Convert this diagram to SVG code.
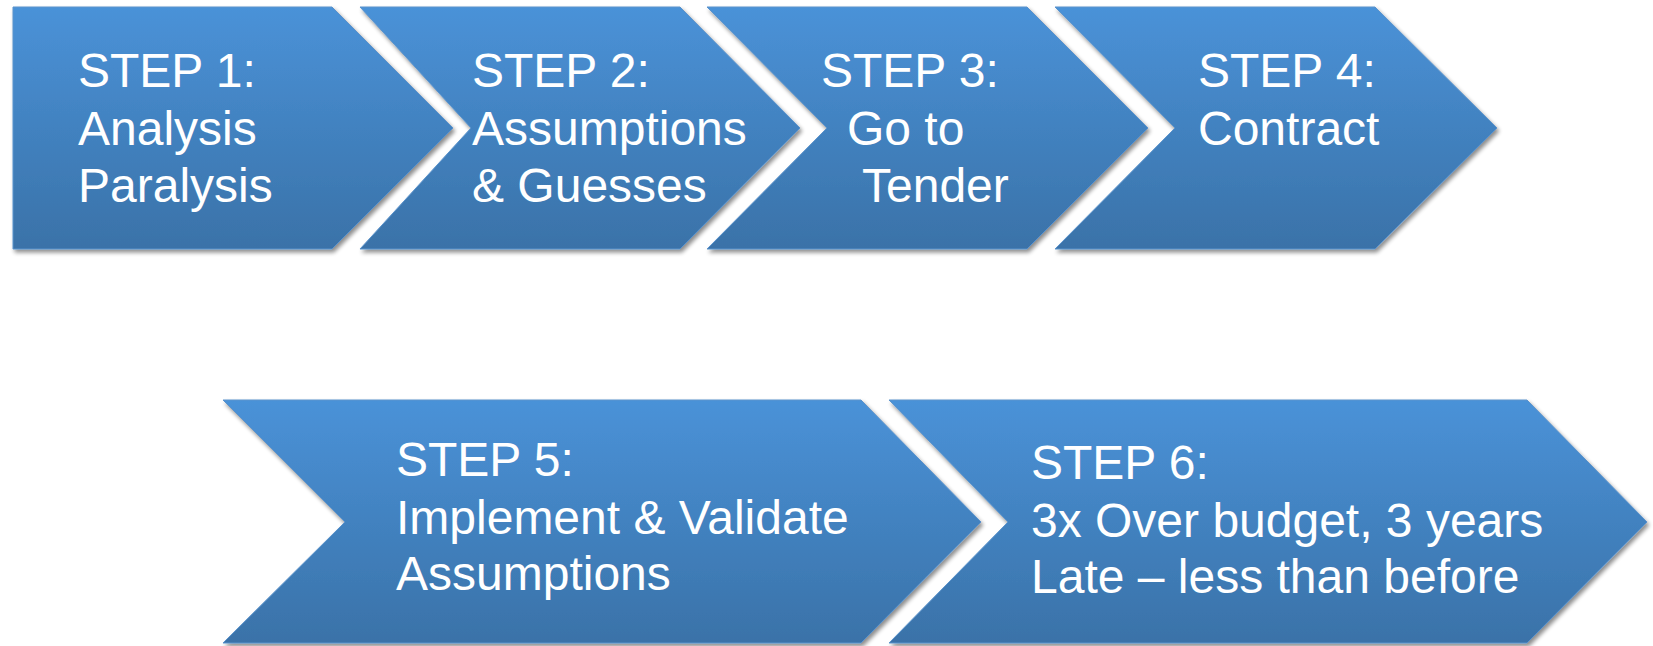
<svg xmlns="http://www.w3.org/2000/svg" width="1653" height="646" viewBox="0 0 1653 646">
  <defs>
    <linearGradient id="chevFill" x1="0" y1="0" x2="0" y2="1">
      <stop offset="0" stop-color="#4a92d8"/>
      <stop offset="1" stop-color="#3a72a8"/>
    </linearGradient>
    <filter id="softShadow" x="-5%" y="-5%" width="112%" height="115%">
      <feGaussianBlur in="SourceAlpha" stdDeviation="2.2"/>
      <feOffset dx="2" dy="3" result="blur"/>
      <feComponentTransfer><feFuncA type="linear" slope="0.45"/></feComponentTransfer>
      <feMerge><feMergeNode/><feMergeNode in="SourceGraphic"/></feMerge>
    </filter>
  </defs>
  <style>
    .chev { fill: url(#chevFill); stroke: #5b93cc; stroke-width: 1; filter: url(#softShadow); }
    .lbl { font-family: "Liberation Sans", Arial, sans-serif; font-size: 48px; fill: #ffffff; }
  </style>
  <rect width="1653" height="646" fill="#ffffff"/>

  <g id="step1">
    <polygon class="chev" points="13,7 332,7 453,128 332,249 13,249"/>
    <text class="lbl"><tspan x="78" y="87">STEP 1:</tspan><tspan x="78" y="145">Analysis</tspan><tspan x="78" y="202">Paralysis</tspan></text>
  </g>

  <g id="step2">
    <polygon class="chev" points="360,7 680,7 800,128 680,249 360,249 471,128"/>
    <text class="lbl"><tspan x="472" y="87">STEP 2:</tspan><tspan x="472" y="145">Assumptions</tspan><tspan x="472" y="202">&amp; Guesses</tspan></text>
  </g>

  <g id="step3">
    <polygon class="chev" points="707,7 1027,7 1148,128 1027,249 707,249 827,128"/>
    <text class="lbl"><tspan x="821" y="87">STEP 3:</tspan><tspan x="847" y="145">Go to</tspan><tspan x="862" y="202">Tender</tspan></text>
  </g>

  <g id="step4">
    <polygon class="chev" points="1055,7 1375,7 1497,128 1375,249 1055,249 1175,128"/>
    <text class="lbl"><tspan x="1198" y="87">STEP 4:</tspan><tspan x="1198" y="145">Contract</tspan></text>
  </g>

  <g id="step5">
    <polygon class="chev" points="223,400 861,400 981,522 861,643 223,643 345,522"/>
    <text class="lbl"><tspan x="396" y="476">STEP 5:</tspan><tspan x="396" y="534">Implement &amp; Validate</tspan><tspan x="396" y="590">Assumptions</tspan></text>
  </g>

  <g id="step6">
    <polygon class="chev" points="889,400 1527,400 1647,522 1527,643 889,643 1008,522"/>
    <text class="lbl"><tspan x="1031" y="479">STEP 6:</tspan><tspan x="1031" y="537">3x Over budget, 3 years</tspan><tspan x="1031" y="593">Late – less than before</tspan></text>
  </g>

  <g id="connectors"/>
</svg>
